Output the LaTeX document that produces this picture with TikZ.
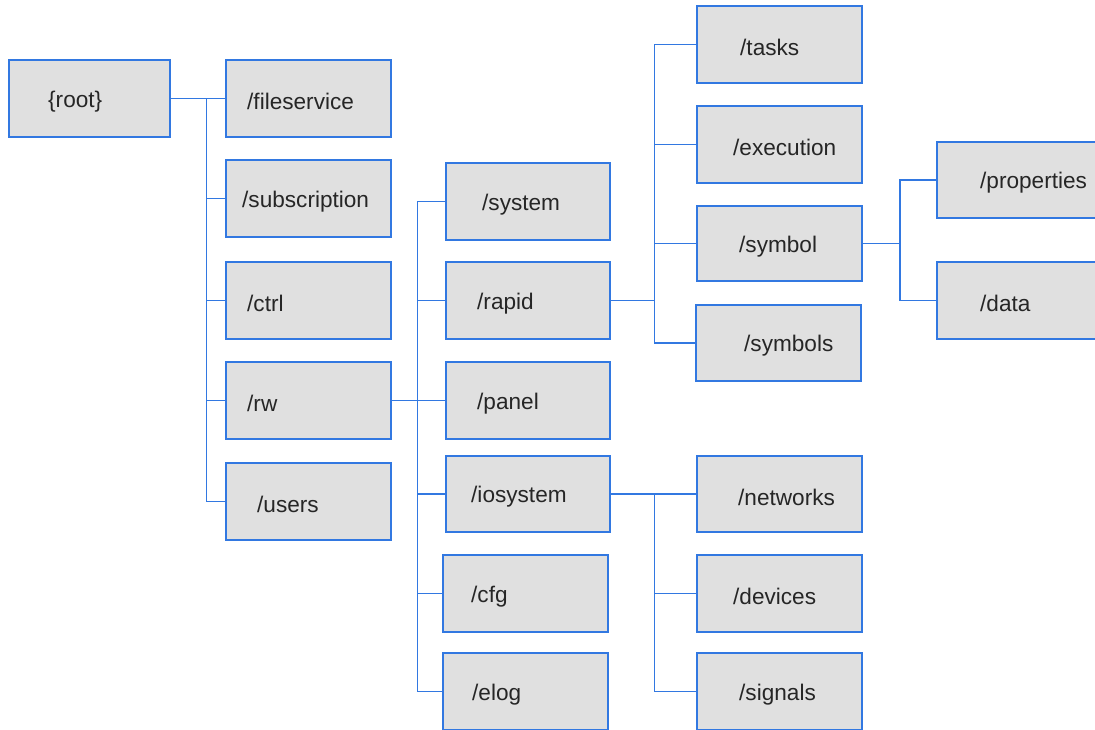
\documentclass[tikz,border=0pt]{standalone}
\usepackage{fontspec}
\setmainfont{Liberation Sans}
\definecolor{boxblue}{RGB}{50,120,225}
\definecolor{boxgray}{RGB}{224,224,224}
\tikzset{
  dirbox/.style={draw=boxblue, fill=boxgray, line width=1.8pt, inner sep=0pt, rectangle},
  dirlabel/.style={anchor=west, inner sep=0pt, font=\fontsize{22.6}{27}\selectfont, text=black!85},
  link/.style={draw=boxblue, line width=1.7pt}
}
% \dirbox{name}{left}{top}{right}{bottom}{text offset}{text}
\newcommand{\dirbox}[7]{%
  \node[dirbox, minimum width={#4-#2}, minimum height={#5-#3}] (#1) at ({(#2+#4)/2},{(#3+#5)/2}) {};
  \node[dirlabel] (#1-t) at ({#2+#6},{(#3+#5)/2+3}) {#7};
}
\begin{document}
\begin{tikzpicture}[x=1pt,y=-1pt]
\useasboundingbox (0,0) rectangle (1095,729);
\clip (0,0) rectangle (1095,729);
\fill[white] (0,0) rectangle (1095,729);

% level 0
\dirbox{root}{9}{60}{170}{137}{39}{\{root\}}
% level 1
\dirbox{fileservice}{226}{60}{391}{137}{21}{/fileservice}
\dirbox{subscription}{226}{160}{391}{237}{16}{/subscription}
\dirbox{ctrl}{226}{262}{391}{339}{21}{/ctrl}
\dirbox{rw}{226}{362}{391}{439}{21}{/rw}
\dirbox{users}{226}{463}{391}{540}{31}{/users}
% level 2 (under /rw)
\dirbox{system}{446}{163}{610}{240}{36}{/system}
\dirbox{rapid}{446}{262}{610}{339}{31}{/rapid}
\dirbox{panel}{446}{362}{610}{439}{31}{/panel}
\dirbox{iosystem}{446}{456}{610}{532}{25}{/iosystem}
\dirbox{cfg}{443}{555}{608}{632}{28}{/cfg}
\dirbox{elog}{443}{653}{608}{730}{29}{/elog}
% level 3 (under /rapid)
\dirbox{tasks}{697}{6}{862}{83}{43}{/tasks}
\dirbox{execution}{697}{106}{862}{183}{36}{/execution}
\dirbox{symbol}{697}{206}{862}{281}{42}{/symbol}
\dirbox{symbols}{696}{305}{861}{381}{48}{/symbols}
% level 3 (under /iosystem)
\dirbox{networks}{697}{456}{862}{532}{41}{/networks}
\dirbox{devices}{697}{555}{862}{632}{36}{/devices}
\dirbox{signals}{697}{653}{862}{730}{42}{/signals}
% level 4 (under /symbol)
\dirbox{properties}{937}{142}{1105}{218}{43}{/properties}
\dirbox{data}{937}{262}{1105}{339}{43}{/data}

% junction columns
\coordinate (j0) at (206.5,0);
\coordinate (j1) at (417.5,0);
\coordinate (j2) at (654.5,0);
\coordinate (j3) at (900,0);

% connectors
\foreach \c in {fileservice,subscription,ctrl,rw,users}
  \draw[link] (root.east) -- (j0 |- root.east) |- (\c.west);
\foreach \c in {system,rapid,panel,iosystem,cfg,elog}
  \draw[link] (rw.east) -- (j1 |- rw.east) |- (\c.west);
\foreach \c in {tasks,execution,symbol,symbols}
  \draw[link] (rapid.east) -- (j2 |- rapid.east) |- (\c.west);
\foreach \c in {networks,devices,signals}
  \draw[link] (iosystem.east) -- (j2 |- iosystem.east) |- (\c.west);
\foreach \c in {properties,data}
  \draw[link] (symbol.east) -- (j3 |- symbol.east) |- (\c.west);
\end{tikzpicture}
\end{document}
